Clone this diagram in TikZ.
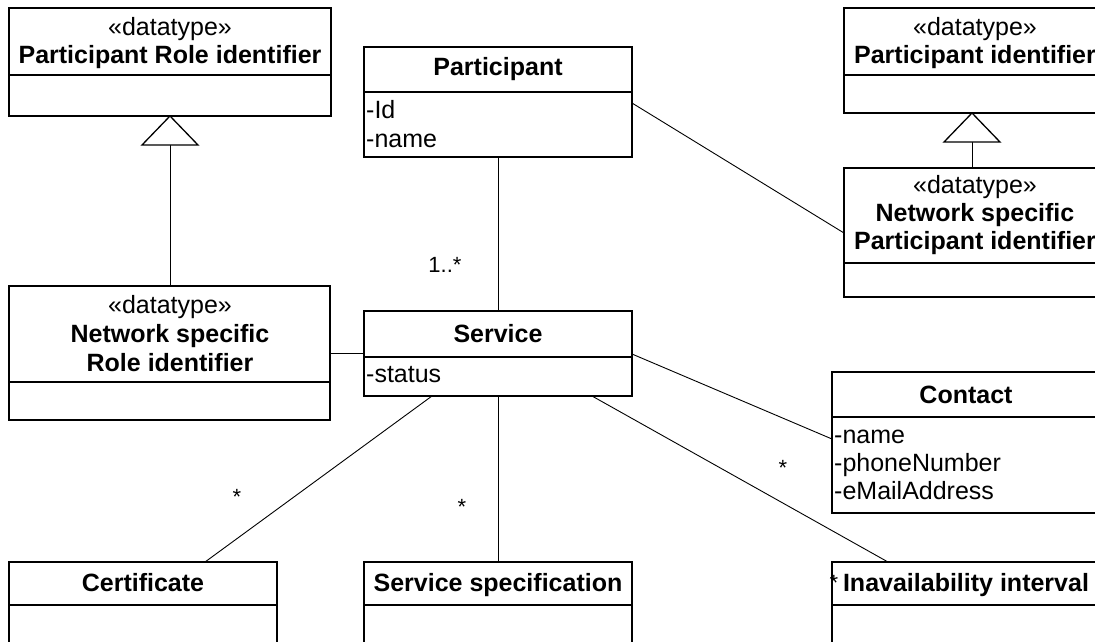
\documentclass[tikz,border=0pt]{standalone}
\usepackage{fontspec}
\setmainfont{Liberation Sans}
\usetikzlibrary{calc}
\begin{document}
\begin{tikzpicture}[x=1pt,y=-1pt,
  box/.style={draw, line width=1.8pt, rectangle, anchor=north west, inner sep=0pt, outer sep=0pt},
  sep/.style={line width=1.8pt},
  conn/.style={line width=0.9pt},
  gen/.style={line width=1.3pt, fill=white},
  txt/.style={font=\fontsize{25}{29}\selectfont, inner sep=0pt, anchor=base},
  ttl/.style={font=\fontsize{25}{29}\selectfont\bfseries, inner sep=0pt, anchor=base},
  attr/.style={font=\fontsize{25}{29}\selectfont, inner sep=0pt, anchor=base west},
  mult/.style={font=\fontsize{22}{26}\selectfont, inner sep=0pt}
]
\useasboundingbox (0,0) rectangle (1095,641);
\clip (0,0) rectangle (1095,641);
\fill[white] (0,0) rectangle (1095,641);

% ---- class boxes ----
\node[box, minimum width=322pt, minimum height=108pt] (pri) at (9,8) {};
\draw[sep] (9,75) -- (331,75);
\node[txt] at (170,35) {«datatype»};
\node[ttl] at (170,63) {Participant Role identifier};

\node[box, minimum width=321pt, minimum height=134pt] (nsri) at (9,286) {};
\draw[sep] (9,382) -- (330,382);
\node[txt] at (170,313) {«datatype»};
\node[ttl] at (170,342) {Network specific};
\node[ttl] at (170,371) {Role identifier};

\node[box, minimum width=268pt, minimum height=110pt] (part) at (364,47) {};
\draw[sep] (364,92) -- (632,92);
\node[ttl] at (498,75) {Participant};
\node[attr] at (366,118) {-Id};
\node[attr] at (366,147) {-name};

\node[box, minimum width=268pt, minimum height=85pt] (svc) at (364,311) {};
\draw[sep] (364,357) -- (632,357);
\node[ttl] at (498,342) {Service};
\node[attr] at (366,382) {-status};

\node[box, minimum width=262pt, minimum height=105pt] (pid) at (844,8) {};
\draw[sep] (844,75) -- (1106,75);
\node[txt] at (975,35) {«datatype»};
\node[ttl] at (975,63) {Participant identifier};

\node[box, minimum width=262pt, minimum height=129pt] (nspi) at (844,168) {};
\draw[sep] (844,263) -- (1106,263);
\node[txt] at (975,193) {«datatype»};
\node[ttl] at (975,221) {Network specific};
\node[ttl] at (975,249) {Participant identifier};

\node[box, minimum width=274pt, minimum height=141pt] (cont) at (832,372) {};
\draw[sep] (832,417) -- (1106,417);
\node[ttl] at (966,403) {Contact};
\node[attr] at (834,443) {-name};
\node[attr] at (834,471) {-phoneNumber};
\node[attr] at (834,499) {-eMailAddress};

\node[box, minimum width=268pt, minimum height=100pt] (cert) at (9,562) {};
\draw[sep] (9,605) -- (277,605);
\node[ttl] at (143,591) {Certificate};

\node[box, minimum width=268pt, minimum height=100pt] (sspec) at (364,562) {};
\draw[sep] (364,605) -- (632,605);
\node[ttl] at (498,591) {Service specification};

\node[box, minimum width=274pt, minimum height=100pt] (inav) at (832,562) {};
\draw[sep] (832,605) -- (1106,605);
\node[ttl] at (966,591) {Inavailability interval};

% ---- generalizations ----
\coordinate (pritip) at (pri.south);
\draw[conn] (nsri.north -| pritip) -- ($(pritip)+(0,29)$);
\draw[gen] (pritip) -- ($(pritip)+(-28,29)$) -- ($(pritip)+(28,29)$) -- cycle;

\coordinate (pidtip) at ($(pid.south west)+(128,0)$);
\draw[conn] ($(nspi.north west)+(128,0)$) -- ($(pidtip)+(0,29)$);
\draw[gen] (pidtip) -- ($(pidtip)+(-28,29)$) -- ($(pidtip)+(28,29)$) -- cycle;

% ---- associations ----
\draw[conn] (part.south -| svc.north) -- (svc.north);
\draw[conn] ($(part.north east)+(0,56)$) -- ($(nspi.north west)+(0,65)$);
\draw[conn] ($(nsri.north east)+(0,67)$) -- ($(svc.north west)+(0,42)$);
\draw[conn] ($(svc.north east)+(0,43)$) -- ($(cont.north west)+(0,67)$);
\draw[conn] ($(svc.south west)+(68,0)$) -- ($(cert.north west)+(196,0)$);
\draw[conn] (svc.south) -- (sspec.north);
\draw[conn] ($(svc.south west)+(228,0)$) -- ($(inav.north west)+(56,0)$);

% ---- multiplicities ----
\node[mult] (m1) at (445,265) {1..*};
\node[mult] (m2) at (237,497) {*};
\node[mult] (m3) at (462,507) {*};
\node[mult] (m4) at (783,468) {*};
\node[mult] (m5) at (834,583) {*};
\end{tikzpicture}
\end{document}
